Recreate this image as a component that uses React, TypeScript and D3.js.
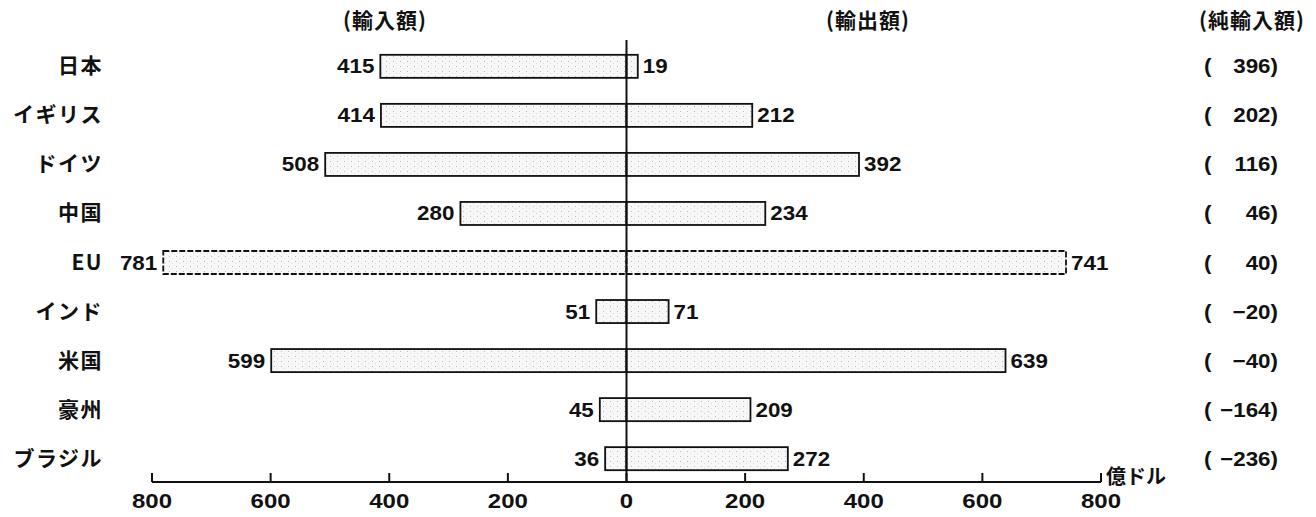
import React from "react";
import * as d3 from "d3";

const categories = ["日本", "イギリス", "ドイツ", "中国", "EU", "インド", "米国", "豪州", "ブラジル"];
const imports = [415, 414, 508, 280, 781, 51, 599, 45, 36];
const exports = [19, 212, 392, 234, 741, 71, 639, 209, 272];
const netImports = [396, 202, 116, 46, 40, -20, -40, -164, -236];
const ticks = [-800, -600, -400, -200, 0, 200, 400, 600, 800];
const dashedCategory = "EU";

const W = 1316;
const H = 517;
const FONT = "'Liberation Sans', 'Noto Sans CJK JP', sans-serif";
const JFONT = "'Noto Sans CJK JP', 'Liberation Sans', sans-serif";
const NUM = 20;
const SX = 1.12;

function Num(props: { x: number; y: number; anchor?: string; sx?: number; size?: number; children: React.ReactNode }) {
  const { x, y, anchor = "start", sx = SX, size = NUM, children } = props;
  return (
    <g transform={`translate(${x},${y}) scale(${sx},1)`}>
      <text x={0} y={0} textAnchor={anchor} fontFamily={FONT} fontWeight="bold" fontSize={size} fill="#111">{children}</text>
    </g>
  );
}

export default function App() {
  const x = d3.scaleLinear().domain([-800, 800]).range([152, 1101]);
  const y = d3.scaleBand().domain(categories).range([45, 480]).paddingInner(0.53).paddingOuter(0.2);
  const bh = y.bandwidth();
  const axisY = 482;
  const fmt = (v: number) => (v < 0 ? "−" + Math.abs(v) : String(v));

  return (
    <svg width={W} height={H} style={{ position: "absolute", left: 0, top: 0, background: "#fff" }}>
      <defs>
        <pattern id="dots" width="7" height="5" patternUnits="userSpaceOnUse">
          <rect width="7" height="5" fill="#f7f7f7" />
          <rect x="1" y="1" width="1" height="1" fill="#bbb" />
          <rect x="4" y="3" width="1" height="1" fill="#ddd" />
        </pattern>
      </defs>
      <g fontFamily={JFONT} fontWeight="bold" fontSize={21} fill="#111" letterSpacing={1}>
        <text x={385} y={28} textAnchor="middle">(輸入額)</text>
        <text x={868} y={28} textAnchor="middle">(輸出額)</text>
        <text x={1252} y={28} textAnchor="middle">(純輸入額)</text>
      </g>
      {categories.map((c, i) => {
        const yc = (y(c) as number) + bh / 2;
        const top = y(c) as number;
        const dash = c === dashedCategory ? "6 2" : undefined;
        const xl = x(-imports[i]);
        const xr = x(exports[i]);
        const labelStart = xl - 6 - String(imports[i]).length * 12.5;
        const catX = Math.min(103, labelStart - 9);
        return (
          <g key={c}>
            <text x={catX} y={yc + 7} textAnchor="end" fontFamily={JFONT} fontWeight="bold" fontSize={21} letterSpacing={1.5} fill="#111">{c}</text>
            <rect x={xl} y={top} width={x(0) - xl} height={bh} fill="url(#dots)" stroke="#111" strokeWidth={1.8} strokeDasharray={dash} />
            <rect x={x(0)} y={top} width={xr - x(0)} height={bh} fill="url(#dots)" stroke="#111" strokeWidth={1.8} strokeDasharray={dash} />
            <Num x={xl - 6} y={yc + 7} anchor="end">{imports[i]}</Num>
            <Num x={xr + 5} y={yc + 7}>{exports[i]}</Num>
            <Num x={1204} y={yc + 7}>(</Num>
            <Num x={1278} y={yc + 7} anchor="end">{fmt(netImports[i]) + ")"}</Num>
          </g>
        );
      })}
      <line x1={x(0)} x2={x(0)} y1={40} y2={axisY} stroke="#111" strokeWidth={2} />
      <line x1={x(-800)} x2={x(800)} y1={axisY} y2={axisY} stroke="#111" strokeWidth={2} />
      {ticks.map((t) => (
        <g key={t}>
          <line x1={x(t)} x2={x(t)} y1={axisY} y2={axisY - 9} stroke="#111" strokeWidth={2} />
          <Num x={x(t)} y={508} anchor="middle" sx={1.2}>{Math.abs(t)}</Num>
        </g>
      ))}
      <text x={1106} y={484} fontFamily={JFONT} fontWeight="bold" fontSize={20} fill="#111">億ドル</text>
    </svg>
  );
}
